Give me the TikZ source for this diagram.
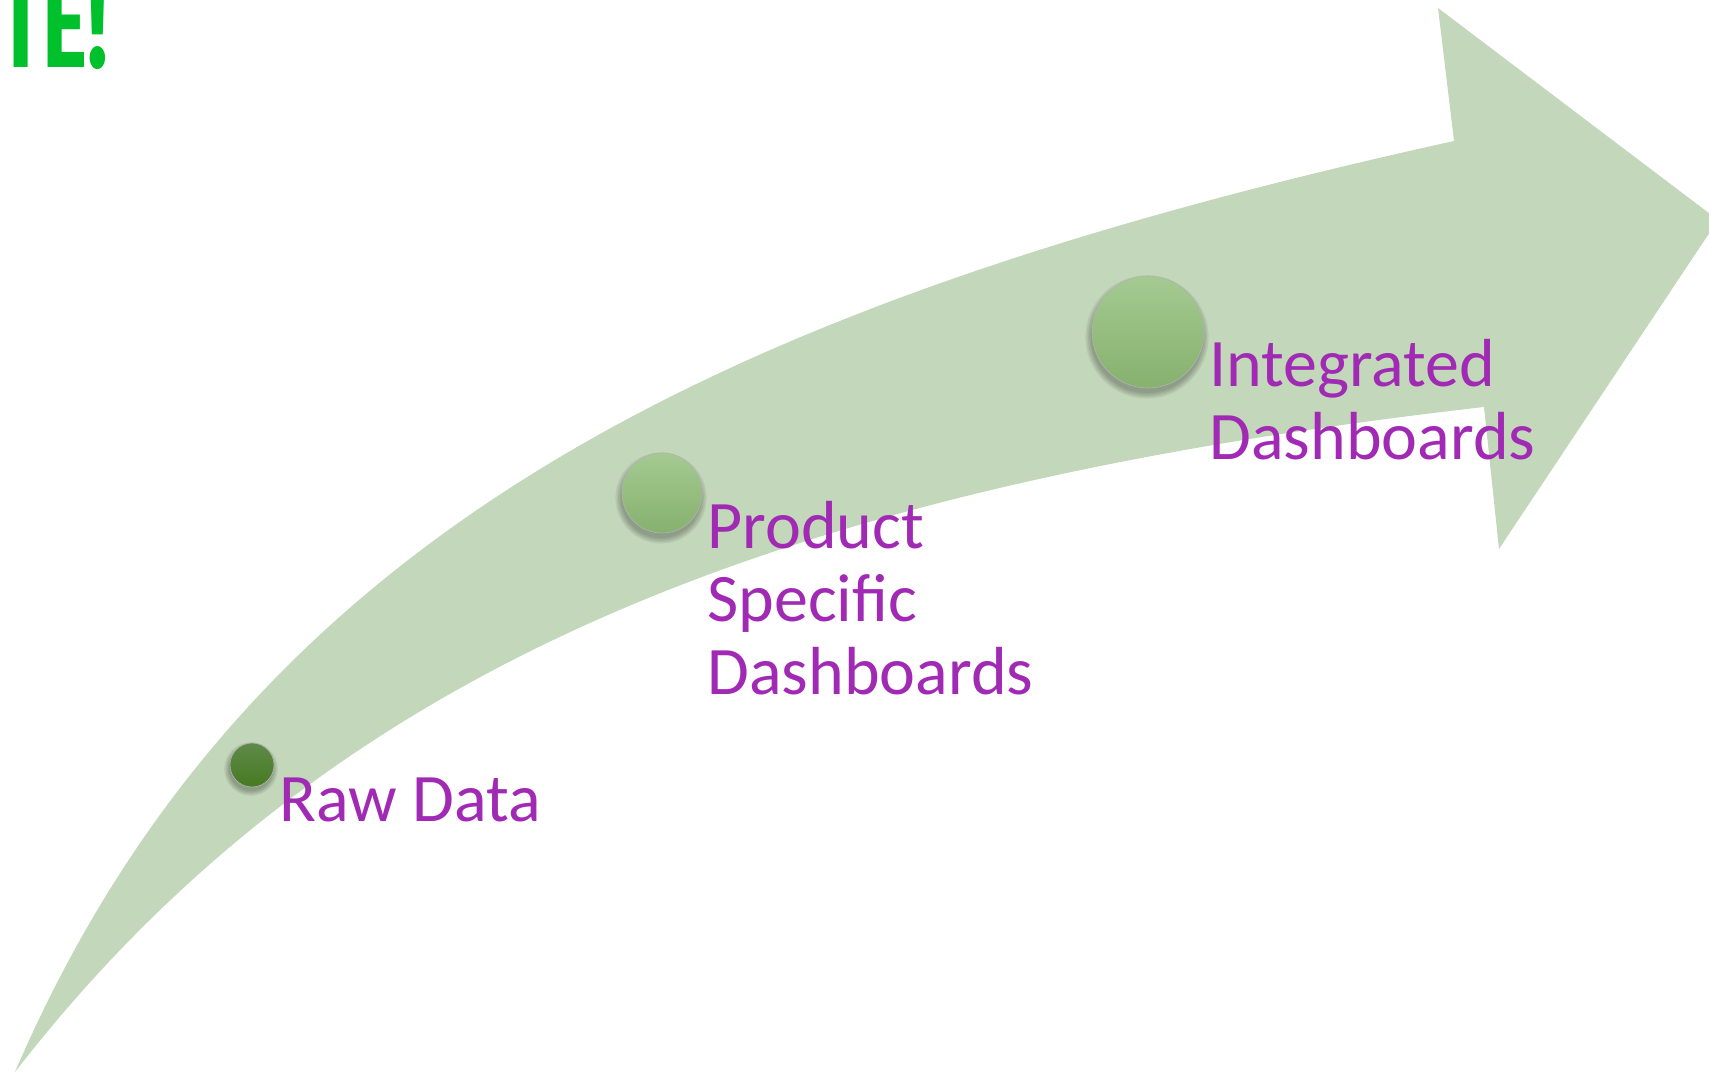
\documentclass[tikz,border=0pt]{standalone}
\usepackage{fontspec}
\setmainfont{Carlito}
\newfontfamily\titlefont{Fira Sans}
\definecolor{arrowgreen}{HTML}{C3D7BA}
\definecolor{labelpurple}{HTML}{A02AB4}
\definecolor{titlegreen}{HTML}{00C12B}
\definecolor{dotlighttop}{HTML}{A4CA91}
\definecolor{dotlightbot}{HTML}{86B16E}
\definecolor{dotdarktop}{HTML}{5E8A48}
\definecolor{dotdarkbot}{HTML}{477A22}
\begin{document}
\begin{tikzpicture}[x=0.5pt,y=-0.5pt,
  steplabel/.style={font=\fontsize{34}{36.5}\selectfont, text=labelpurple, align=left, anchor=base west, inner sep=0pt},
  dot/.style={circle, inner sep=0pt, draw=black!30, line width=0.3pt},
  lightdot/.style={dot, top color=dotlighttop, bottom color=dotlightbot},
  darkdot/.style={dot, top color=dotdarktop, bottom color=dotdarkbot},
  shade/.style={fill=black, opacity=0.06}]
\useasboundingbox (0,0) rectangle (1709,1074);
\clip (0,0) rectangle (1709,1074);
% arrow
\fill[arrowgreen] (15,1072) .. controls (247,532) and (724,302) .. (1454,141)
  -- (1438,8) -- (1718,220) -- (1499,549) -- (1484,407)
  .. controls (784,487) and (333,662) .. (15,1072) -- cycle;
% dot centres
\coordinate (rawc) at (252,765);
\coordinate (prodc) at (662,493);
\coordinate (intc) at (1148,332);
% shadows
\foreach \k in {0,1,2,3,4} {
  \fill[shade] ([xshift=-0.5pt,yshift=-2pt]rawc) circle ({22+\k*1.2});
  \fill[shade] ([xshift=-0.5pt,yshift=-2.5pt]prodc) circle ({40+\k*1.4});
  \fill[shade] ([xshift=-0.5pt,yshift=-2.5pt]intc) circle ({56+\k*1.4});
}
% dots
\node[darkdot, minimum size=22pt] (raw) at (rawc) {};
\node[lightdot, minimum size=40pt] (prod) at (prodc) {};
\node[lightdot, minimum size=56pt] (int) at (intc) {};
% labels (anchored at the baseline of the last line)
\node[steplabel] (rawlbl) at (279,821) {Raw Data};
\node[steplabel] (prodlbl) at (707,695) {Product\\Specific\\Dashboards};
\node[steplabel] (intlbl) at (1209,460) {Integrated\\Dashboards};
% clipped title
\node[font=\titlefont\bfseries\fontsize{64}{64}\selectfont, text=titlegreen, anchor=base west, inner sep=0pt, xscale=0.67] (title) at (8,68) {I\kern7pt E!};
\end{tikzpicture}
\end{document}
